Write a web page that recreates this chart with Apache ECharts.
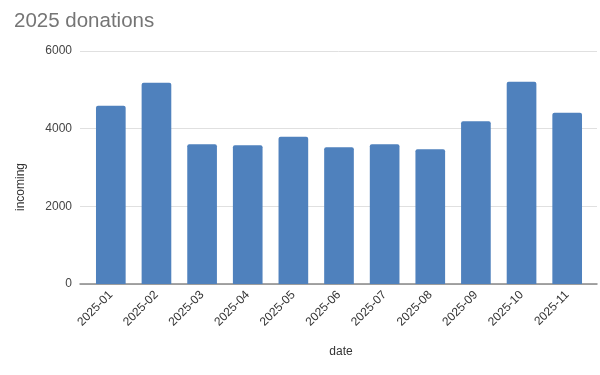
<!DOCTYPE html>
<html><head><meta charset="utf-8">
<script src="https://cdn.jsdelivr.net/npm/echarts@6/dist/echarts.min.js"></script>
<style>html,body{margin:0;padding:0;background:#fff}#c{width:600px;height:375px}</style>
</head><body><div id="c"></div>
<script>
const categories = ['2025-01','2025-02','2025-03','2025-04','2025-05','2025-06','2025-07','2025-08','2025-09','2025-10','2025-11'];
const incoming = [4590, 5180, 3600, 3570, 3790, 3520, 3600, 3470, 4190, 5210, 4410];
const yTicks = [0, 2000, 4000, 6000];
const titleText = '2025 donations';
const yName = 'incoming';
const xName = 'date';

const chart = echarts.init(document.getElementById('c'), null, {renderer: 'canvas'});
const FONT = 'Liberation Sans, Arial, sans-serif';
chart.setOption({
  animation: false,
  backgroundColor: '#fff',
  title: {text: titleText, left: 9, top: 6, textStyle: {fontFamily: FONT, fontSize: 20.5, fontWeight: 'normal', color: '#757575'}},
  grid: [
    {left: 80, right: 3, top: 51, bottom: 91},
    {left: 88, right: 10, top: 51, bottom: 91}
  ],
  xAxis: [
    {gridIndex: 0, type: 'category', data: categories, axisLine: {show: true, lineStyle: {color: '#888', width: 1.5}}, axisTick: {show: false}, axisLabel: {show: false}, splitLine: {show: false}},
    {gridIndex: 1, type: 'category', data: categories, axisLine: {show: false}, axisTick: {show: false},
     axisLabel: {rotate: 45, margin: 9, interval: 0, fontFamily: FONT, fontSize: 12, color: '#333'}}
  ],
  yAxis: [
    {gridIndex: 0, type: 'value', min: yTicks[0], max: yTicks[yTicks.length - 1], interval: 2000,
     axisLine: {show: false}, axisTick: {show: false},
     axisLabel: {margin: 8, fontFamily: FONT, fontSize: 12, color: '#444', formatter: v => String(v)},
     splitLine: {lineStyle: {color: '#e0e0e0', width: 1}}},
    {gridIndex: 1, type: 'value', min: yTicks[0], max: yTicks[yTicks.length - 1], interval: 2000, show: false, splitLine: {show: false}}
  ],
  graphic: [
    {type: 'text', x: 21, y: 187, rotation: Math.PI / 2, style: {text: yName, font: '12px ' + FONT, fill: '#333', align: 'center', verticalAlign: 'middle'}},
    {type: 'text', x: 341, y: 352, style: {text: xName, font: '12px ' + FONT, fill: '#333', align: 'center', verticalAlign: 'middle'}}
  ],
  series: [{
    type: 'bar', xAxisIndex: 1, yAxisIndex: 1, data: incoming, barWidth: '65%',
    itemStyle: {color: '#4f81bd', borderRadius: [2, 2, 0, 0]}
  }]
});
</script></body></html>
